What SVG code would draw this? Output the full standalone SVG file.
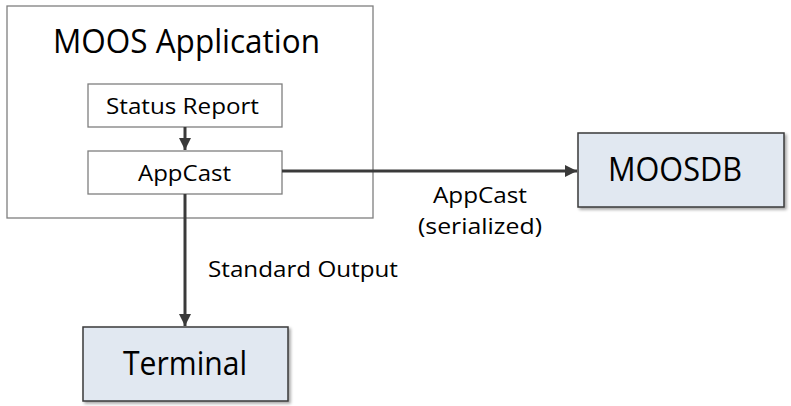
<svg xmlns="http://www.w3.org/2000/svg" width="791" height="406" viewBox="0 0 791 406">
<defs>
<style>
text{font-family:"Open Sans","Liberation Sans",sans-serif;fill:#000}
.big{font-size:32px}
.small{font-size:22px}
.plain{fill:#fff;stroke:#7f7f7f;stroke-width:1.3}
.blue{fill:#e1e8f1;stroke:#3a3a3a;stroke-width:1.5}
.conn{stroke:#3a3a3a;stroke-width:3;fill:none}
</style>
<marker id="ah" viewBox="0 0 10 10" refX="10" refY="5" markerWidth="4" markerHeight="4" orient="auto" markerUnits="strokeWidth">
<path d="M0,0 L10,5 L0,10 z" fill="#3a3a3a"/>
</marker>
<filter id="sh" x="-10%" y="-10%" width="125%" height="130%">
<feDropShadow dx="2" dy="2" stdDeviation="1.5" flood-color="#000" flood-opacity="0.35"/>
</filter>
</defs>
<g id="app">
<rect class="plain" x="7" y="6" width="366" height="212"/>
<text class="big" x="53" y="53" textLength="267" lengthAdjust="spacingAndGlyphs">MOOS Application</text>
</g>
<g id="status">
<rect class="plain" x="88" y="84" width="194" height="43"/>
<text class="small" x="106" y="114" textLength="153" lengthAdjust="spacingAndGlyphs">Status Report</text>
</g>
<g id="appcast">
<rect class="plain" x="88" y="151" width="194" height="43"/>
<text class="small" x="138" y="181" textLength="93" lengthAdjust="spacingAndGlyphs">AppCast</text>
</g>
<g id="moosdb">
<rect class="blue" x="578" y="133" width="206" height="74" filter="url(#sh)"/>
<text class="big" x="608" y="181" textLength="134" lengthAdjust="spacingAndGlyphs">MOOSDB</text>
</g>
<g id="terminal">
<rect class="blue" x="83" y="327" width="205" height="74" filter="url(#sh)"/>
<text class="big" x="123" y="375" textLength="124" lengthAdjust="spacingAndGlyphs">Terminal</text>
</g>
<g id="connectors">
<line class="conn" x1="185" y1="127" x2="185" y2="150" stroke-width="2.5" marker-end="url(#ah)"/>
<line class="conn" x1="282" y1="171" x2="577" y2="171" marker-end="url(#ah)"/>
<line class="conn" x1="185" y1="194" x2="185" y2="326" marker-end="url(#ah)"/>
<text class="small" x="433" y="203" textLength="94" lengthAdjust="spacingAndGlyphs">AppCast</text>
<text class="small" x="418" y="234" textLength="124" lengthAdjust="spacingAndGlyphs">(serialized)</text>
<text class="small" x="208" y="277" textLength="190" lengthAdjust="spacingAndGlyphs">Standard Output</text>
</g>
</svg>
